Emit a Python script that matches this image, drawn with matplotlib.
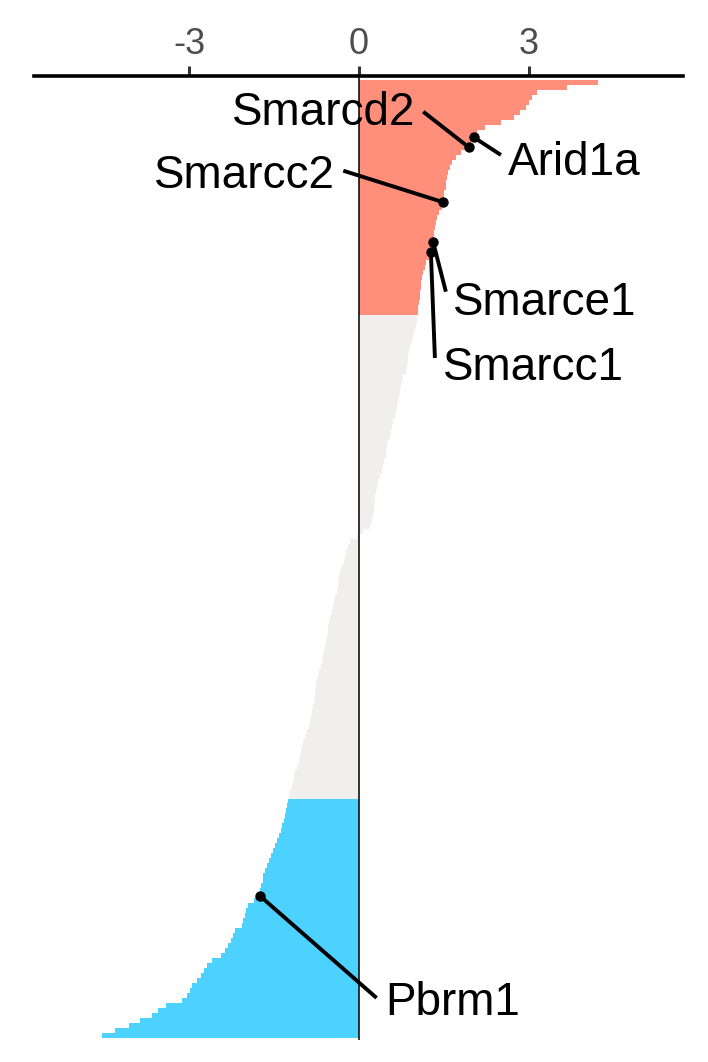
import matplotlib
matplotlib.use("Agg")
import matplotlib.pyplot as plt
import numpy as np

plt.rcParams['font.family'] = ['Liberation Sans', 'DejaVu Sans']

# ranked scores (top = highest)
scores = [
    4.22, 3.67, 3.14, 3.05, 3.00, 2.95, 2.84, 2.74, 2.50, 2.22,
    2.08, 2.03, 1.97, 1.94, 1.80, 1.72, 1.65, 1.60, 1.58, 1.56,
    1.54, 1.53, 1.51, 1.50, 1.49, 1.46, 1.41, 1.38, 1.36, 1.35,
    1.33, 1.32, 1.31, 1.29, 1.27, 1.23, 1.19, 1.16, 1.13, 1.11,
    1.10, 1.09, 1.08, 1.07, 1.06, 1.05, 1.04, 1.03, 1.02, 1.00,
    0.98, 0.95, 0.93, 0.90, 0.88, 0.87, 0.86, 0.84, 0.83, 0.78,
    0.76, 0.74, 0.72, 0.70, 0.69, 0.68, 0.66, 0.64, 0.60, 0.59,
    0.57, 0.55, 0.52, 0.50, 0.48, 0.47, 0.45, 0.42, 0.41, 0.38,
    0.34, 0.32, 0.30, 0.29, 0.28, 0.27, 0.26, 0.25, 0.23, 0.19,
    0.08, -0.03, -0.15, -0.20, -0.22, -0.24, -0.27, -0.30, -0.33, -0.35,
    -0.37, -0.37, -0.39, -0.42, -0.44, -0.46, -0.48, -0.51, -0.53, -0.54,
    -0.55, -0.56, -0.58, -0.60, -0.61, -0.63, -0.65, -0.67, -0.70, -0.73,
    -0.75, -0.76, -0.77, -0.78, -0.80, -0.81, -0.82, -0.84, -0.86, -0.89,
    -0.92, -0.95, -0.98, -1.00, -1.02, -1.04, -1.06, -1.09, -1.13, -1.15,
    -1.17, -1.19, -1.21, -1.23, -1.25, -1.27, -1.29, -1.31, -1.33, -1.35,
    -1.37, -1.41, -1.45, -1.48, -1.51, -1.55, -1.59, -1.63, -1.66, -1.69,
    -1.70, -1.72, -1.74, -1.75, -1.85, -1.96, -1.99, -2.01, -2.04, -2.06,
    -2.18, -2.22, -2.26, -2.31, -2.37, -2.44, -2.60, -2.68, -2.73, -2.79,
    -2.86, -2.94, -2.98, -3.04, -3.12, -3.40, -3.55, -3.66, -3.87, -4.05,
    -4.30, -4.54,
]

# labelled genes: name -> rank index
label_genes = ["Smarcd2", "Arid1a", "Smarcc2", "Smarce1", "Smarcc1", "Pbrm1"]
label_index = [13, 11, 24, 32, 34, 163]

up_threshold = 1.035
down_threshold = -1.24
col_up = "#FF8F7B"
col_down = "#4DD2FF"
col_mid = "#F0EFED"

tick_values = [-3, 0, 3]
tick_labels = ["-3", "0", "3"]

# label text layout (x, baseline y, ha) and connector start (x, y)
label_layout = {
    "Smarcd2": (0.99, 8.52, "right", 1.135, 5.85),
    "Arid1a": (2.63, 18.54, "left", 2.506, 14.53),
    "Smarcc2": (-0.42, 21.14, "right", -0.276, 17.68),
    "Smarce1": (1.66, 46.59, "left", 1.535, 41.93),
    "Smarcc1": (1.49, 59.62, "left", 1.341, 55.21),
    "Pbrm1": (0.46, 186.87, "left", 0.312, 183.47),
}

fig = plt.figure(figsize=(7.08, 10.62), dpi=100)
ax = fig.add_axes([34 / 708, 1 - 1040 / 1062, (683 - 34) / 708, (1040 - 76) / 1062])

vals = np.array(scores)
n = len(vals)
ypos = np.arange(n)
colors = [col_up if v > up_threshold else (col_down if v < down_threshold else col_mid) for v in vals]
ax.barh(ypos, vals, height=1.0, color=colors, linewidth=0)

ax.axvline(0, color="black", lw=1.1, zorder=3)

for name, idx in zip(label_genes, label_index):
    tx, ty, ha, lx, ly = label_layout[name]
    px, py = vals[idx], idx
    ax.plot([lx, px], [ly, py], color="black", lw=2.8, solid_capstyle="butt", zorder=4)
    ax.plot([px], [py], "o", color="black", ms=6.5, zorder=5)
    ax.text(tx, ty, name, ha=ha, va="baseline", fontsize=33, color="black", zorder=6)

ax.set_xlim(-5.735, 5.72)
ax.set_ylim(n - 0.5 + 0.4, -1.3)

ax.xaxis.tick_top()
ax.set_xticks(tick_values)
ax.set_xticklabels(tick_labels)
ax.tick_params(axis="x", which="major", length=7, width=2.2, color="#333333",
               labelsize=26, labelcolor="#4D4D4D", pad=3)
ax.tick_params(axis="y", left=False, labelleft=False)
for side in ["left", "right", "bottom"]:
    ax.spines[side].set_visible(False)
ax.spines["top"].set_linewidth(2.6)
ax.spines["top"].set_color("black")

fig.savefig("out.png", dpi=100)
